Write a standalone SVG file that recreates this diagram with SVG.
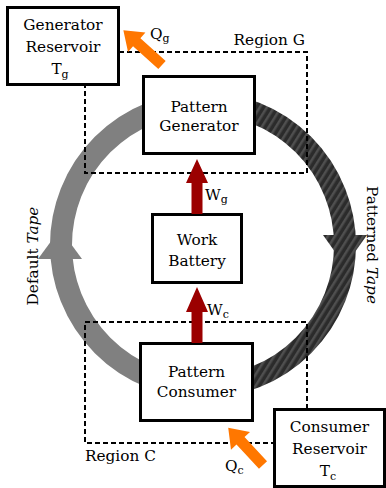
<svg xmlns="http://www.w3.org/2000/svg" width="386" height="488" viewBox="0 0 386 488">
<style>
.box{fill:#fff;stroke:#000;stroke-width:3}
.dash{fill:none;stroke:#000;stroke-width:2;stroke-dasharray:5 3}
text{font-family:"DejaVu Serif","Liberation Serif",serif;font-size:15.3px;fill:#000}
.c{text-anchor:middle}
.sub{font-size:11px}
.work{fill:#9b0000}
.heat{fill:#ff7700}
</style>
<defs>
<pattern id="stripes" width="6" height="6" patternUnits="userSpaceOnUse" patternTransform="rotate(32)">
<rect width="6" height="6" fill="#2b2b2b"/>
<rect width="2.5" height="6" fill="#4f4f4f"/>
</pattern>
</defs>
<g id="connectors">
<path id="default-tape" d="M203 387 A142 142 0 0 1 203 103" fill="none" stroke="#808080" stroke-width="22"/>
<polygon points="38,259 82,259 60,229" fill="#808080"/>
<path id="patterned-tape" d="M203 103 A142 142 0 0 1 203 387" fill="none" stroke="url(#stripes)" stroke-width="22"/>
<polygon points="323,235 367,235 345,266" fill="url(#stripes)"/>
</g>
<g id="region-g">
<path class="dash" d="M119 52 H307 V173 H85 V85"/>
<text x="305" y="45" text-anchor="end">Region G</text>
</g>
<g id="region-c">
<path class="dash" d="M307 409 V322 H85 V443 H274"/>
<text x="85" y="461">Region C</text>
</g>
<g id="generator-reservoir">
<rect class="box" x="7.5" y="7.5" width="111" height="77"/>
<text class="c" x="63" y="30">Generator</text>
<text class="c" x="63" y="52">Reservoir</text>
<text class="c" x="60" y="74">T<tspan class="sub" dy="4">g</tspan></text>
</g>
<g id="pattern-generator">
<rect class="box" x="143.5" y="76.5" width="111" height="77"/>
<text class="c" x="199" y="112">Pattern</text>
<text class="c" x="199" y="131">Generator</text>
</g>
<g id="work-battery">
<rect class="box" x="152.5" y="214.5" width="89" height="68"/>
<text class="c" x="197" y="245">Work</text>
<text class="c" x="197" y="266">Battery</text>
</g>
<g id="pattern-consumer">
<rect class="box" x="140.5" y="343.5" width="112" height="77"/>
<text class="c" x="196.5" y="377">Pattern</text>
<text class="c" x="196.5" y="397">Consumer</text>
</g>
<g id="consumer-reservoir">
<rect class="box" x="274.5" y="409.5" width="110" height="77"/>
<text class="c" x="329.5" y="432">Consumer</text>
<text class="c" x="329.5" y="454">Reservoir</text>
<text class="c" x="328" y="476">T<tspan class="sub" dy="4">c</tspan></text>
</g>
<g id="flows">
<polygon class="work" points="191.5,214 202.5,214 202.5,183 208,183 197,159 186,183 191.5,183"/>
<text x="205" y="200">W<tspan class="sub" dy="3">g</tspan></text>
<polygon class="work" points="191.5,343 202.5,343 202.5,312 208,312 197,287 186,312 191.5,312"/>
<text x="207" y="315">W<tspan class="sub" dy="3">c</tspan></text>
<polygon class="heat" transform="translate(162,65) rotate(-138)" points="0,-5.5 34,-5.5 34,-13 52,0 34,13 34,5.5 0,5.5"/>
<text x="150" y="39">Q<tspan class="sub" dy="3">g</tspan></text>
<polygon class="heat" transform="translate(263,465) rotate(-133)" points="0,-5.5 33,-5.5 33,-13 51,0 33,13 33,5.5 0,5.5"/>
<text x="225" y="471">Q<tspan class="sub" dy="3">c</tspan></text>
<text transform="translate(367,245) rotate(90)" class="c">Patterned <tspan font-style="italic">Tape</tspan></text>
<text transform="translate(38,256) rotate(-90)" class="c">Default <tspan font-style="italic">Tape</tspan></text>
</g>
</svg>
